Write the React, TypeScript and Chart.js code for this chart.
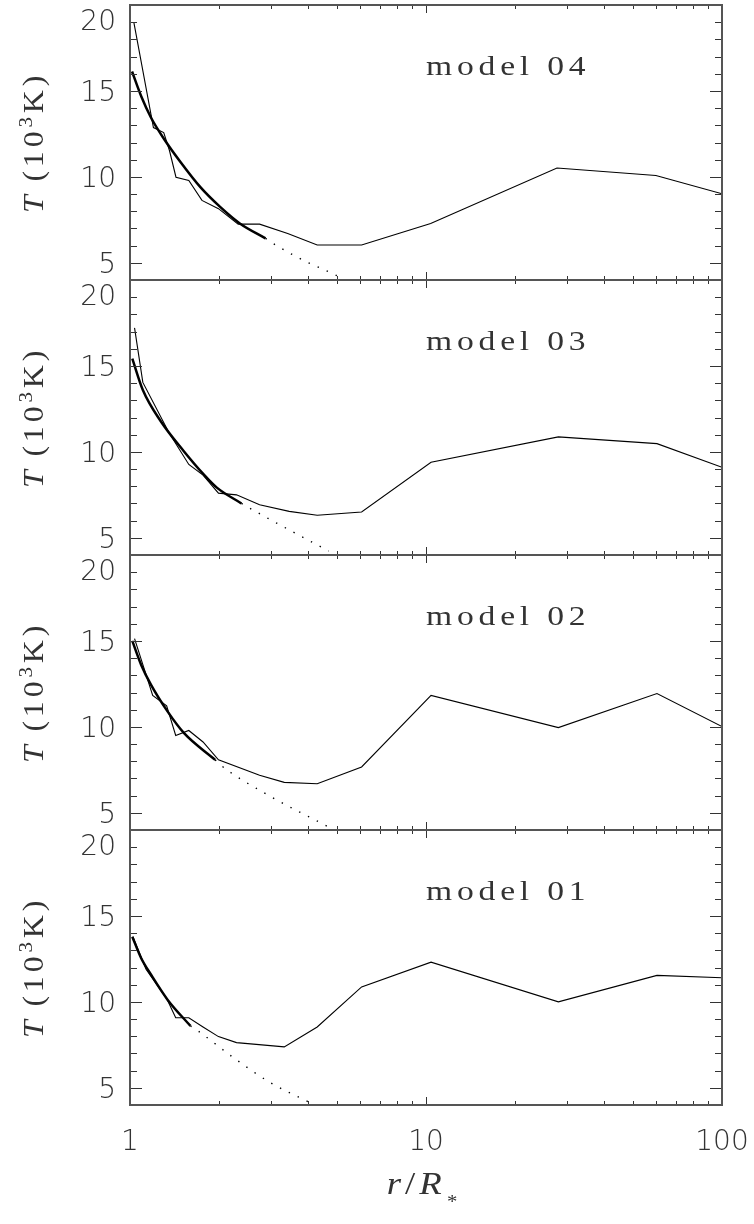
import React, { useEffect, useRef } from 'react';
import { Chart, registerables } from 'chart.js';

Chart.register(...registerables);

// ---------------- data ----------------
const modelLabels = ['model 04', 'model 03', 'model 02', 'model 01'];

const yTickLabels = [5, 10, 15, 20];
const yMinorTicks = [5, 6, 7, 8, 9, 10, 11, 12, 13, 14, 15, 16, 17, 18, 19];
const yMajorTicks = [5, 10, 15];
const xTickValues = [1, 10, 100];
const xTickLabels = ['1', '10', '100'];
const xMinorTicks = [2, 3, 4, 5, 6, 7, 8, 9, 20, 30, 40, 50, 60, 70, 80, 90];
const xMajorTicks = [10];

// model 04
const m04R = [1.03, 1.2, 1.3, 1.36, 1.43, 1.58, 1.75, 1.99, 2.32, 2.74, 3.41, 4.29, 6.06, 10.37, 27.7, 59.8, 100];
const m04T = [19.0, 12.87, 12.58, 11.52, 9.98, 9.79, 8.63, 8.15, 7.25, 7.25, 6.71, 6.04, 6.04, 7.29, 10.52, 10.08, 9.02];
const m04FitR = [1.016, 1.091, 1.178, 1.305, 1.483, 1.729, 2.016, 2.35, 2.87];
const m04FitT = [16.13, 14.69, 13.44, 12.19, 10.85, 9.4, 8.25, 7.29, 6.42];
const m04ExtR = [2.87, 3.04, 3.92, 4.46, 5.06];
const m04ExtT = [6.42, 6.13, 5.08, 4.65, 4.21];

// model 03
const m03R = [1.036, 1.105, 1.356, 1.58, 1.765, 1.99, 2.29, 2.74, 3.45, 4.29, 6.06, 10.4, 28.0, 60.3, 100];
const m03T = [17.21, 14.04, 11.1, 9.27, 8.65, 7.6, 7.5, 6.92, 6.54, 6.31, 6.5, 9.4, 10.87, 10.48, 9.1];
const m03FitR = [1.018, 1.105, 1.272, 1.52, 1.774, 1.965, 2.38];
const m03FitT = [15.42, 13.6, 11.77, 10.04, 8.69, 7.92, 7.0];
const m03ExtR = [2.38, 2.57, 3.45, 4.69];
const m03ExtT = [7.0, 6.67, 5.46, 4.23];

// model 02
const m02R = [1.036, 1.193, 1.33, 1.427, 1.58, 1.765, 1.99, 2.74, 3.32, 4.29, 6.06, 10.4, 28.0, 60.3, 100];
const m02T = [15.13, 11.83, 11.23, 9.5, 9.79, 9.12, 8.08, 7.19, 6.77, 6.69, 7.67, 11.83, 9.96, 11.94, 10.02];
const m02FitR = [1.018, 1.091, 1.178, 1.339, 1.52, 1.94];
const m02FitT = [15.0, 13.6, 12.44, 10.9, 9.65, 8.08];
const m02ExtR = [1.94, 2.04, 2.88, 4.69];
const m02ExtT = [8.08, 7.73, 6.1, 4.17];

// model 01
const m01R = [1.023, 1.133, 1.33, 1.427, 1.58, 1.765, 1.99, 2.29, 3.32, 4.29, 6.06, 10.4, 28.0, 60.3, 100];
const m01T = [13.79, 11.9, 10.19, 9.08, 9.08, 8.54, 7.98, 7.63, 7.38, 8.54, 10.87, 12.31, 10.0, 11.54, 11.4];
const m01FitR = [1.018, 1.091, 1.178, 1.339, 1.6];
const m01FitT = [13.79, 12.54, 11.58, 10.13, 8.6];
const m01ExtR = [1.6, 1.685, 2.23, 2.96, 4.02];
const m01ExtT = [8.6, 8.35, 6.77, 5.33, 4.17];

// --------------------------------------

const zip = (xs: number[], ys: number[]) => xs.map((x, i) => ({ x, y: ys[i] }));

const panels = [
  { label: modelLabels[0], r: m04R, t: m04T, fitR: m04FitR, fitT: m04FitT, extR: m04ExtR, extT: m04ExtT },
  { label: modelLabels[1], r: m03R, t: m03T, fitR: m03FitR, fitT: m03FitT, extR: m03ExtR, extT: m03ExtT },
  { label: modelLabels[2], r: m02R, t: m02T, fitR: m02FitR, fitT: m02FitT, extR: m02ExtR, extT: m02ExtT },
  { label: modelLabels[3], r: m01R, t: m01T, fitR: m01FitR, fitT: m01FitT, extR: m01ExtR, extT: m01ExtT },
];

const NUM_FONT = '200 28px "DejaVu Sans"';
const SERIF = '"Liberation Serif"';

function drawParts(ctx: any, parts: any[], x0: number, y0: number, align: 'left' | 'center', spacing: number) {
  ctx.textAlign = 'left';
  ctx.textBaseline = 'alphabetic';
  ctx.letterSpacing = spacing + 'px';
  let total = 0;
  const widths = parts.map((p) => {
    ctx.font = p.font;
    const w = ctx.measureText(p.t).width + (p.gap || 0);
    total += w;
    return w;
  });
  let x = align === 'center' ? x0 - total / 2 : x0;
  parts.forEach((p, i) => {
    ctx.font = p.font;
    ctx.fillText(p.t, x, y0 + (p.dy || 0));
    x += widths[i];
  });
  ctx.letterSpacing = '0px';
}

const decor = {
  id: 'decor',
  afterDraw(chart: any) {
    const ctx = chart.ctx;
    const xs = chart.scales.x;
    const L = xs.left;
    const R = xs.right;
    ctx.save();
    panels.forEach((p, i) => {
      const ys = chart.scales['y' + i];
      const T = ys.top;
      const B = ys.bottom;

      // ticks
      ctx.strokeStyle = '#333';
      ctx.lineWidth = 1;
      ctx.beginPath();
      yMinorTicks.forEach((v) => {
        const y = Math.round(ys.getPixelForValue(v)) + 0.5;
        const len = yMajorTicks.includes(v) ? 12 : 7;
        ctx.moveTo(L, y);
        ctx.lineTo(L + len, y);
        ctx.moveTo(R, y);
        ctx.lineTo(R - len, y);
      });
      xMinorTicks.concat(xMajorTicks).forEach((v) => {
        const x = Math.round(xs.getPixelForValue(v)) + 0.5;
        const len = xMajorTicks.includes(v) ? 8 : 4;
        ctx.moveTo(x, T);
        ctx.lineTo(x, T + len);
        ctx.moveTo(x, B);
        ctx.lineTo(x, B - len);
      });
      ctx.stroke();

      // frame
      ctx.strokeStyle = '#555';
      ctx.lineWidth = 2;
      ctx.strokeRect(L, T, R - L, B - T);

      // y tick labels
      ctx.fillStyle = '#333';
      ctx.font = NUM_FONT;
      ctx.textAlign = 'right';
      ctx.textBaseline = 'alphabetic';
      yTickLabels.forEach((v) => {
        let y = ys.getPixelForValue(v);
        if (v === 20) y += 15;
        ctx.fillText(String(v), L - 14, y + 10);
      });

      // model label
      ctx.fillStyle = '#333';
      ctx.save();
      const mx = xs.getPixelForValue(10);
      ctx.translate(mx, T + 70);
      ctx.scale(1.2, 1);
      drawParts(ctx, [{ t: p.label, font: `28px ${SERIF}` }], 0, 0, 'left', 4);
      ctx.restore();

      // y title
      ctx.save();
      ctx.translate(43, (T + B) / 2);
      ctx.rotate(-Math.PI / 2);
      ctx.scale(1.1, 1);
      ctx.fillStyle = '#333';
      drawParts(
        ctx,
        [
          { t: 'T', font: `italic 29px ${SERIF}`, gap: 9 },
          { t: '(10', font: `29px ${SERIF}` },
          { t: '3', font: `19px ${SERIF}`, dy: -11 },
          { t: 'K)', font: `29px ${SERIF}` },
        ],
        0,
        0,
        'center',
        3.5
      );
      ctx.restore();
    });

    // x tick labels
    ctx.fillStyle = '#333';
    ctx.font = NUM_FONT;
    ctx.textAlign = 'center';
    ctx.textBaseline = 'alphabetic';
    const bottom = chart.scales['y' + (panels.length - 1)].bottom;
    xTickValues.forEach((v, i) => {
      ctx.fillText(xTickLabels[i], xs.getPixelForValue(v), bottom + 45);
    });

    // x title
    ctx.fillStyle = '#333';
    ctx.save();
    ctx.translate((L + R) / 2 - 2, bottom + 89);
    ctx.scale(1.15, 1);
    drawParts(
      ctx,
      [
        { t: 'r', font: `italic 32px ${SERIF}` },
        { t: '/', font: `32px ${SERIF}` },
        { t: 'R', font: `italic 32px ${SERIF}`, gap: 1 },
        { t: '*', font: `18px ${SERIF}`, dy: 14 },
      ],
      0,
      0,
      'center',
      3.5
    );
    ctx.restore();
    ctx.restore();
  },
};

export default function App() {
  const ref = useRef<HTMLCanvasElement>(null);
  useEffect(() => {
    const datasets: any[] = [];
    const scales: any = {
      x: {
        type: 'logarithmic',
        min: 1,
        max: 100,
        position: 'bottom',
        grid: { display: false },
        border: { display: false },
        ticks: { display: false },
      },
    };
    panels.forEach((p, i) => {
      const id = 'y' + i;
      scales[id] = {
        type: 'linear',
        min: 4,
        max: 20,
        position: 'left',
        stack: 'panels',
        stackWeight: 1,
        weight: panels.length - i,
        grid: { display: false },
        border: { display: false },
        ticks: { display: false },
      };
      datasets.push({
        data: zip(p.r, p.t),
        yAxisID: id,
        borderColor: '#000',
        borderWidth: 1.1,
        pointRadius: 0,
        tension: 0,
      });
      datasets.push({
        data: zip(p.fitR, p.fitT),
        yAxisID: id,
        borderColor: '#000',
        borderWidth: 2.5,
        pointRadius: 0,
        cubicInterpolationMode: 'monotone',
      });
      datasets.push({
        data: zip(p.extR, p.extT),
        yAxisID: id,
        borderColor: '#000',
        borderWidth: 1.4,
        borderDash: [1.4, 8.5],
        pointRadius: 0,
        cubicInterpolationMode: 'monotone',
      });
    });

    const chart = new Chart(ref.current as HTMLCanvasElement, {
      type: 'line',
      data: { datasets },
      options: {
        responsive: false,
        animation: false,
        devicePixelRatio: 1,
        layout: { padding: { left: 122, right: 32, top: 5, bottom: 111 } },
        plugins: { legend: { display: false }, tooltip: { enabled: false } },
        scales,
      } as any,
      plugins: [decor],
    });
    return () => chart.destroy();
  }, []);

  return (
    <canvas
      ref={ref}
      width={754}
      height={1224}
      style={{ position: 'absolute', left: 0, top: 0, width: 754, height: 1224, background: '#fff' }}
    />
  );
}
